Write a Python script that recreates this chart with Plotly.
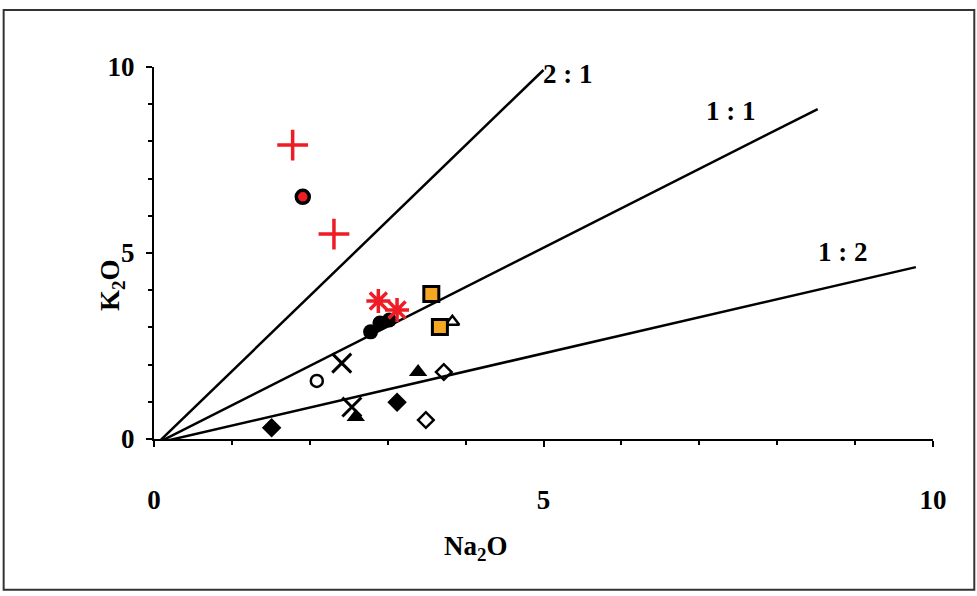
import plotly.graph_objects as go

# ---- data ----
red_plus_x = [1.78, 2.31]
red_plus_y = [7.90, 5.51]

red_dot_circle_x = [1.91]
red_dot_circle_y = [6.51]

red_star_x = [2.88, 3.12]
red_star_y = [3.71, 3.47]

black_circle_x = [2.78, 2.90, 3.02]
black_circle_y = [2.88, 3.12, 3.20]

orange_square_x = [3.56, 3.67]
orange_square_y = [3.90, 3.01]

open_triangle_x = [3.83]
open_triangle_y = [3.15]

cross_x = [2.41, 2.54]
cross_y = [2.04, 0.86]

open_circle_x = [2.09]
open_circle_y = [1.56]

filled_triangle_x = [3.39, 2.59]
filled_triangle_y = [1.80, 0.59]

open_diamond_x = [3.72, 3.49]
open_diamond_y = [1.80, 0.51]

filled_diamond_x = [3.12, 1.51]
filled_diamond_y = [0.99, 0.30]

ratio_labels = ["2 : 1", "1 : 1", "1 : 2"]
line_x_start = [0.05, 0.05, 0.05]
line_y_start = [-0.1, -0.1, -0.1]
line_x_end = [5.0, 8.52, 9.78]
line_y_end = [9.92, 8.87, 4.62]

x_ticks = [0, 5, 10]
y_ticks = [0, 5, 10]

# ---- styling ----
FONT = "Liberation Serif"
RED = "#EE1C25"
ORANGE = "#F5A623"

fig = go.Figure()

for i in range(len(ratio_labels)):
    fig.add_trace(go.Scatter(
        x=[line_x_start[i], line_x_end[i]], y=[line_y_start[i], line_y_end[i]],
        mode="lines", line=dict(color="black", width=2.5), hoverinfo="skip"))

def add_pts(x, y, symbol, size, color, lw, lcolor=None):
    fig.add_trace(go.Scatter(
        x=x, y=y, mode="markers", cliponaxis=False,
        marker=dict(symbol=symbol, size=size, color=color,
                    line=dict(width=lw, color=lcolor if lcolor else color))))

add_pts(filled_diamond_x, filled_diamond_y, "diamond", 15, "black", 0)
add_pts(open_diamond_x, open_diamond_y, "diamond-open", 12, "black", 2.5)
add_pts(filled_triangle_x, filled_triangle_y, "triangle-up", 16, "black", 0)
add_pts(open_circle_x, open_circle_y, "circle-open", 12, "black", 2.5)
add_pts(cross_x, cross_y, "x-thin", 19, "black", 3)
add_pts(open_triangle_x, open_triangle_y, "triangle-up-open", 12, "black", 2.5)
add_pts(orange_square_x, orange_square_y, "square", 15, ORANGE, 3, "black")
add_pts(black_circle_x, black_circle_y, "circle", 15, "black", 0)
add_pts(red_star_x, red_star_y, "asterisk-open", 20, RED, 3.5)
add_pts(red_dot_circle_x, red_dot_circle_y, "circle", 13, RED, 3.5, "black")
add_pts(red_plus_x, red_plus_y, "cross-thin", 22, RED, 3.5)

# ratio labels
label_pos = [(5.32, 9.80), (7.41, 8.82), (8.84, 5.03)]
for lab, (lx, ly) in zip(ratio_labels, label_pos):
    fig.add_annotation(x=lx, y=ly, text=lab, showarrow=False,
                       xanchor="center", yanchor="middle",
                       font=dict(family=FONT, size=27, color="black", weight="bold"))

# axis titles
fig.add_annotation(xref="paper", yref="paper", x=0.413, y=-0.293, text="Na<sub>2</sub>O",
                   showarrow=False, xanchor="center", yanchor="middle",
                   font=dict(family=FONT, size=27, color="black", weight="bold"))
fig.add_annotation(xref="paper", yref="paper", x=-0.054, y=0.414, text="K<sub>2</sub>O",
                   textangle=-90, showarrow=False, xanchor="center", yanchor="middle",
                   font=dict(family=FONT, size=27, color="black", weight="bold"))

# outer frame
fig.add_shape(type="rect", xref="paper", yref="paper",
              x0=-0.193, x1=1.053, y0=-0.405, y1=1.153,
              line=dict(color="#333333", width=2))

tickfont = dict(family=FONT, size=27, color="black", weight="bold")
fig.update_xaxes(range=[0, 10], tickvals=x_ticks, ticktext=[str(v) for v in x_ticks],
                 showgrid=False, zeroline=False, showline=True, linecolor="black", linewidth=2,
                 ticks="outside", ticklen=6, tickwidth=1.5, tickcolor="black",
                 minor=dict(dtick=1, ticks="outside", ticklen=4, tickwidth=1.5, tickcolor="black"),
                 tickfont=tickfont, ticklabelstandoff=30)
fig.update_yaxes(range=[0, 10], tickvals=y_ticks, ticktext=[str(v) for v in y_ticks],
                 showgrid=False, zeroline=False, showline=True, linecolor="black", linewidth=2,
                 ticks="outside", ticklen=6, tickwidth=1.5, tickcolor="black",
                 minor=dict(dtick=1, ticks="outside", ticklen=4, tickwidth=1.5, tickcolor="black"),
                 tickfont=tickfont, ticklabelstandoff=6)

fig.update_layout(width=977, height=596, showlegend=False,
                  plot_bgcolor="white", paper_bgcolor="white",
                  margin=dict(l=154, r=44, t=67, b=157))

fig.write_html("out.html", config={"displayModeBar": False},
               post_script="document.body.style.margin='0px';")
